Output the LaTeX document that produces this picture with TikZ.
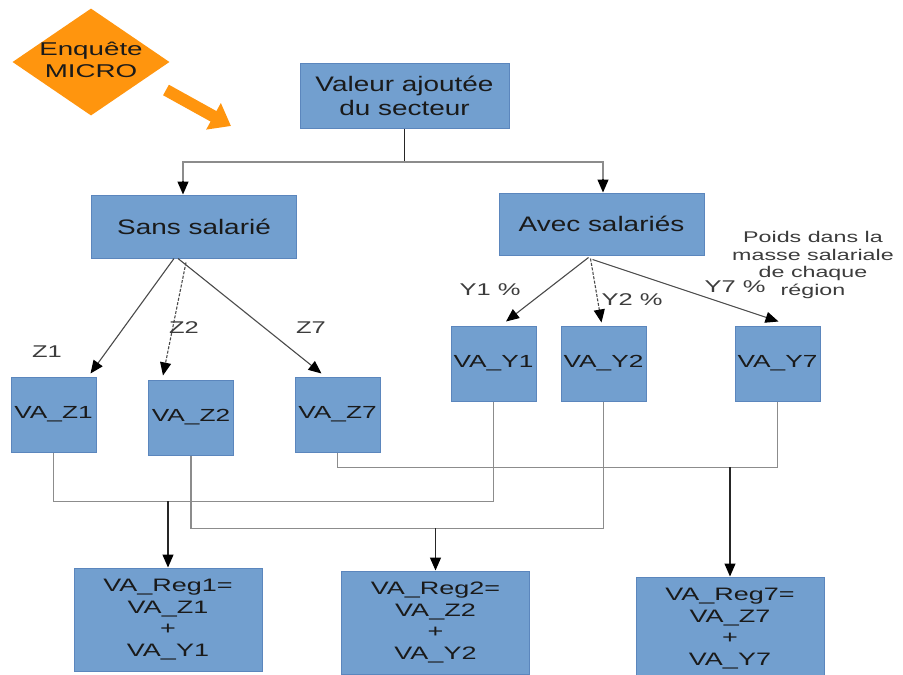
\documentclass[tikz,border=0pt]{standalone}
\usepackage{fontspec}
\setmainfont{Liberation Sans}
\newfontfamily\wa[FakeStretch=1.33]{Liberation Sans}
\newfontfamily\wb[FakeStretch=1.5]{Liberation Sans}
\usetikzlibrary{arrows.meta,shapes.geometric}
\definecolor{boxfill}{HTML}{729FCF}
\definecolor{boxline}{HTML}{5B86BD}
\definecolor{orng}{HTML}{FF950E}
\definecolor{txt}{HTML}{1A1A1A}
\definecolor{cg}{HTML}{8C8C8C}
\definecolor{dg}{HTML}{4A4A4A}
\begin{document}
\begin{tikzpicture}[x=1pt,y=-1pt,
  box/.style={draw=boxline, fill=boxfill, line width=1pt, inner sep=0pt, text=txt, align=center},
  topbox/.style={box, font=\wa\fontsize{21}{24}\selectfont},
  vabox/.style={box, minimum width=85pt, minimum height=75pt, font=\wb\fontsize{17.5}{21}\selectfont},
  regbox/.style={box, minimum width=188pt, minimum height=103pt, font=\wb\fontsize{18}{21.5}\selectfont},
  lab/.style={text=txt!85, inner sep=0pt, font=\wb\fontsize{17}{20}\selectfont},
  conn/.style={draw=cg, line width=1.4pt},
  tip/.style={-{Triangle[color=black,length=13pt,width=11pt]}},
  arr/.style={draw=black!85, line width=1.3pt, tip},
  diag/.style={draw=dg, line width=1.1pt, tip},
  diagd/.style={diag, dash pattern=on 3pt off 1.5pt}
]
\useasboundingbox (0,0) rectangle (903,675);
\fill[white] (0,0) rectangle (903,675);
\clip (0,0) rectangle (903,675);

% Enquete diamond and orange arrow
\node[diamond, fill=orng, minimum width=157pt, minimum height=107pt, inner sep=0pt] (enq) at (91,62) {};
\node[align=center, text=txt, inner sep=0pt, font=\wb\fontsize{18.5}{22}\selectfont] (enqt) at (91,60) {Enquête\\MICRO};
\coordinate (oa1) at (166,90);
\coordinate (oa2) at (231,126);
\draw[orng, line width=12pt, -{Triangle[length=20pt,width=29pt]}] (oa1) -- (oa2);

% top level
\node[topbox, minimum width=209pt, minimum height=65pt] (val) at (404.5,95.5) {Valeur ajoutée\\du secteur};
\node[topbox, minimum width=205pt, minimum height=63pt] (sans) at (194,226.5) {Sans salarié};
\node[topbox, minimum width=205pt, minimum height=62pt] (avec) at (601.5,224) {Avec salariés};

\coordinate (jt) at (404.5,162);
\draw[draw=black!85, line width=1.3pt] (val.south) -- (jt);
\draw[conn] (jt) -| ([xshift=-11pt,yshift=14pt]sans.north);
\draw[conn] (jt) -| ([xshift=1.5pt,yshift=14pt]avec.north);
\draw[arr] ([xshift=-11pt,yshift=14pt]sans.north) -- ([xshift=-11pt]sans.north);
\draw[arr] ([xshift=1.5pt,yshift=14pt]avec.north) -- ([xshift=1.5pt]avec.north);

% middle boxes
\node[vabox] (z1) at (53.5,414.5) {VA\_Z1};
\node[vabox] (z2) at (191,417.5) {VA\_Z2};
\node[vabox] (z7) at (337.5,414.5) {VA\_Z7};
\node[vabox] (y1) at (493.5,363.5) {VA\_Y1};
\node[vabox] (y2) at (603.5,363.5) {VA\_Y2};
\node[vabox] (y7) at (777.5,363.5) {VA\_Y7};

% diagonal arrows
\draw[diag] ([xshift=-20pt]sans.south) -- ([shift={(-6,-3)}]z1.north east);
\draw[diagd] ([xshift=-8pt,yshift=-4pt]sans.south) -- ([shift={(-28,-4)}]z2.north);
\draw[diag] ([xshift=-16pt]sans.south) -- ([shift={(-16,-3)}]z7.north);
\draw[diag] ([xshift=-13pt,yshift=-2pt]avec.south) -- ([shift={(12.5,-4)}]y1.north);
\draw[diagd] ([xshift=-11pt,yshift=-3pt]avec.south) -- ([shift={(-2,-3)}]y2.north);
\draw[diag] ([xshift=-9pt,yshift=-4pt]avec.south) -- ([shift={(1,-4)}]y7.north);

% labels
\node[lab] (lz1) at (47,352) {Z1};
\node[lab] (lz2) at (184,328) {Z2};
\node[lab] (lz7) at (311,328) {Z7};
\node[lab] (ly1) at (490,290) {Y1 \%};
\node[lab] (ly2) at (632,300) {Y2 \%};
\node[lab] (ly7) at (735,287) {Y7 \%};
\node[align=center, text=txt!85, inner sep=0pt, font=\wb\fontsize{15.5}{17.8}\selectfont] (poids) at (813,265) {Poids dans la\\masse salariale\\de chaque\\région};

% bottom boxes
\node[regbox] (reg1) at (168,619.5) {VA\_Reg1=\\VA\_Z1\\+\\VA\_Y1};
\node[regbox] (reg2) at (435.5,622.5) {VA\_Reg2=\\VA\_Z2\\+\\VA\_Y2};
\node[regbox] (reg7) at (730,628.5) {VA\_Reg7=\\VA\_Z7\\+\\VA\_Y7};

% bottom connectors
\draw[conn] (z1.south) -- ++(0,49) -| (y1.south);
\draw[conn] (z2.south) -- ++(0,73) -| (y2.south);
\draw[conn] (z7.south) -- ++(0,15) -| (y7.south);
\coordinate (j1) at (168,501);
\coordinate (j2) at (435.5,528);
\coordinate (j3) at (730,467);
\draw[arr] (j1) -- (reg1.north);
\draw[arr] (j2) -- (reg2.north);
\draw[arr] (j3) -- (reg7.north);
\end{tikzpicture}
\end{document}
